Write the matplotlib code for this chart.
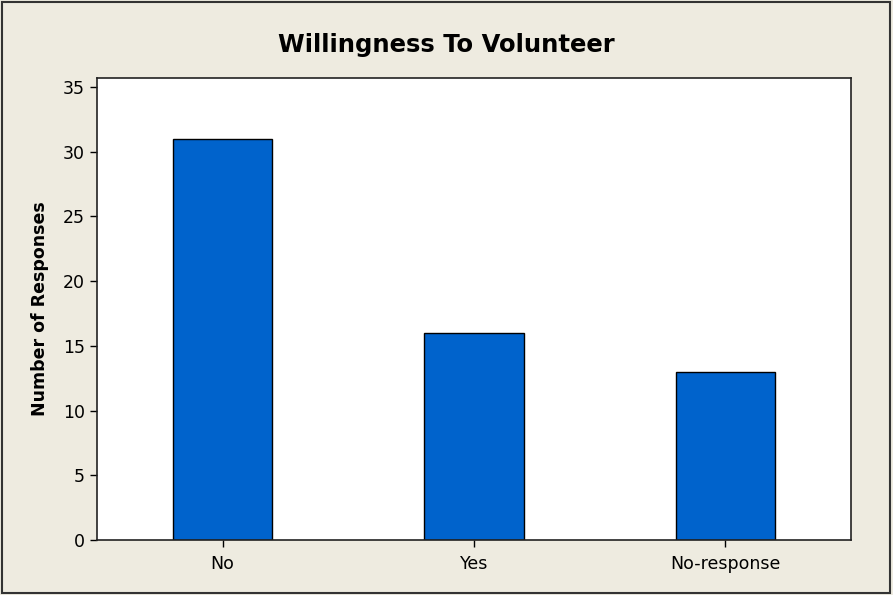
import matplotlib
matplotlib.use("Agg")
import matplotlib.pyplot as plt
from matplotlib.patches import Rectangle

BG = "#EEEBE0"
BAR = "#0063CC"

categories = ["No", "Yes", "No-response"]
responses = [31, 16, 13]

fig = plt.figure(figsize=(8.93, 5.95), dpi=100, facecolor=BG)
ax = fig.add_axes([0.1086, 0.0924, 0.8444, 0.777])

x = range(len(categories))
ax.bar(x, responses, width=0.395, color=BAR, edgecolor="black", linewidth=1.0)

ax.set_xlim(-0.5, 2.5)
ax.set_ylim(0, 35.7)
ax.set_yticks(range(0, 36, 5))
ax.set_xticks(list(x))
ax.set_xticklabels(categories)
ax.tick_params(direction="out", length=5, width=1, labelsize=12.5, colors="black")
ax.tick_params(axis="x", pad=6)
for s in ax.spines.values():
    s.set_linewidth(1.2)
    s.set_color("#222222")

ax.set_ylabel("Number of Responses", fontsize=12.5, fontweight="bold", labelpad=10)
fig.text(0.5, 0.924, "Willingness To Volunteer", ha="center", va="center",
         fontsize=17.5, fontweight="bold")

# figure border
fig.patches.append(Rectangle((0.002, 0.003), 0.995, 0.994, transform=fig.transFigure,
                             fill=False, edgecolor="#333333", linewidth=1.5))

fig.savefig("out.png", dpi=100, facecolor=BG)
